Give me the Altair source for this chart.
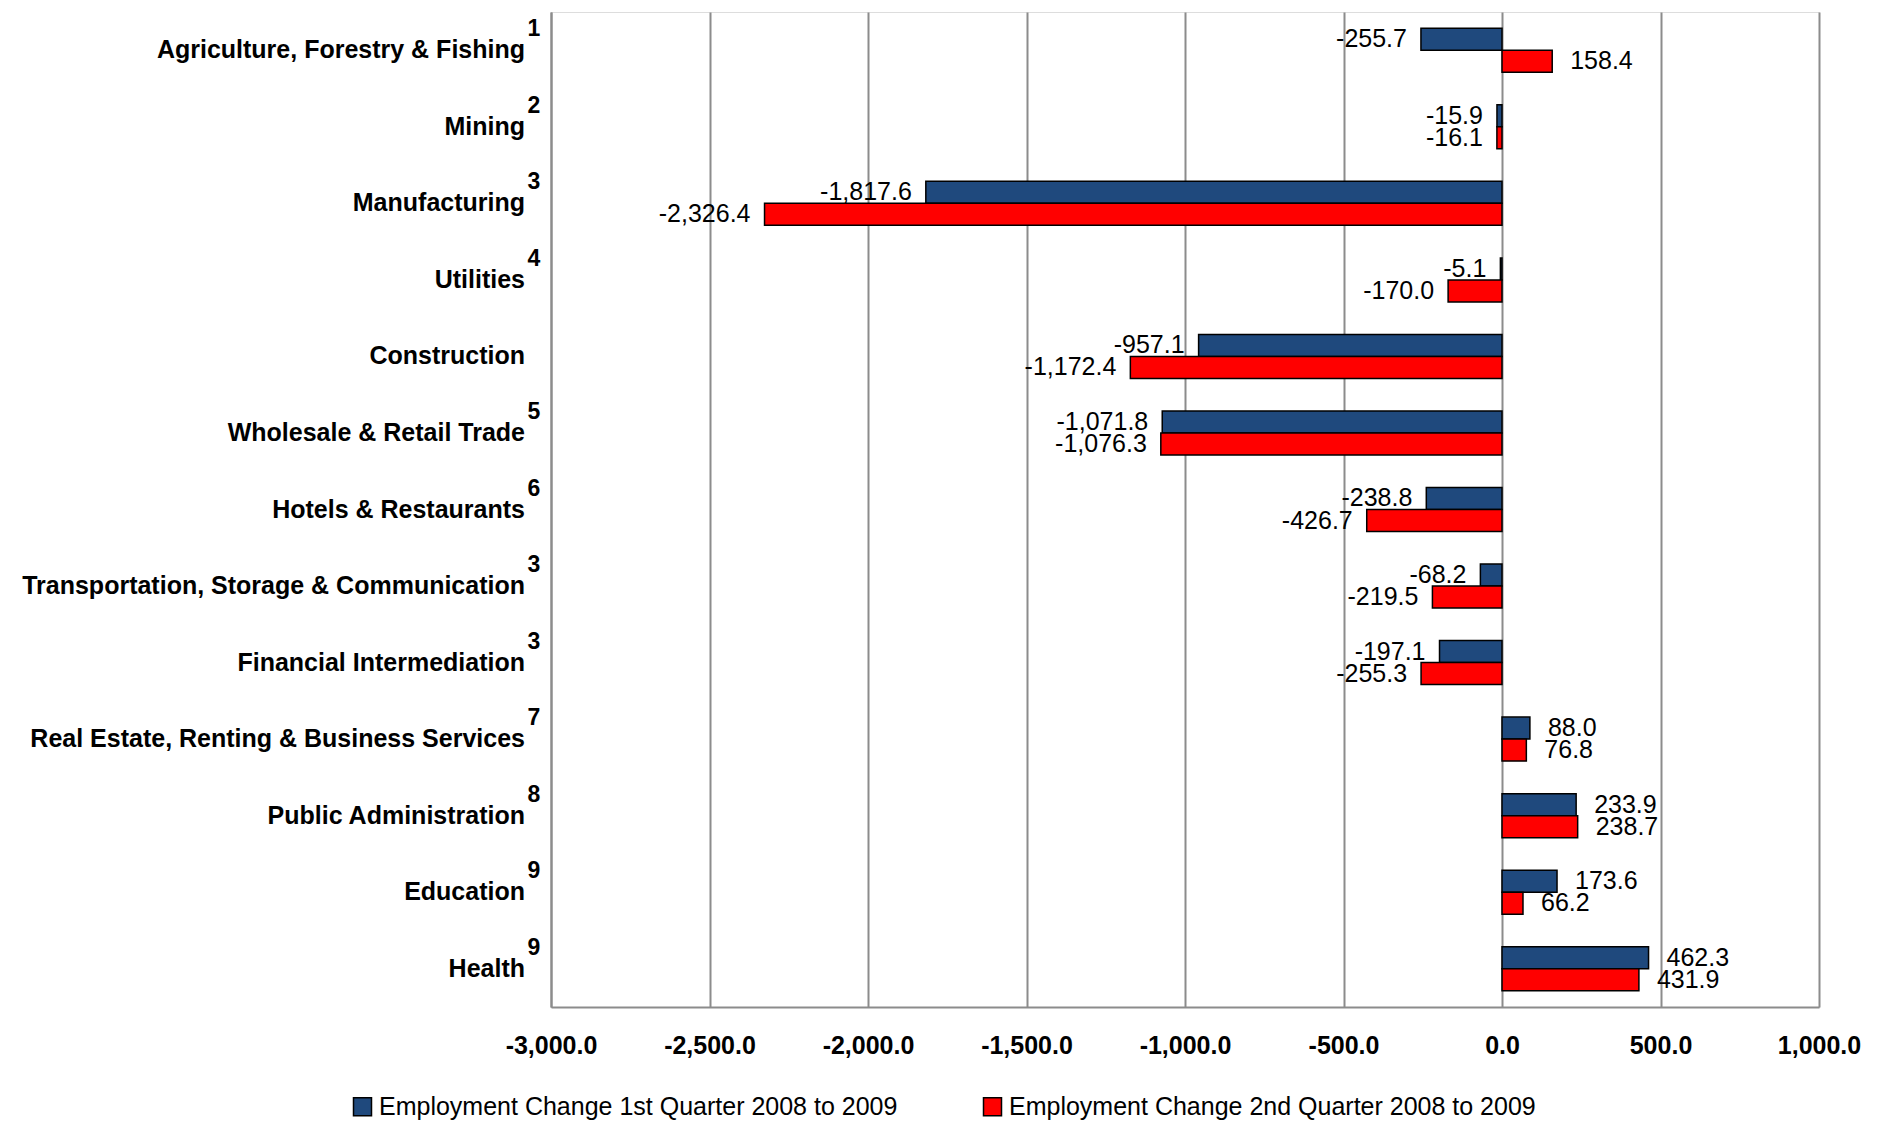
import altair as alt
import pandas as pd

categories = [
    "Agriculture, Forestry & Fishing",
    "Mining",
    "Manufacturing",
    "Utilities",
    "Construction",
    "Wholesale & Retail Trade",
    "Hotels & Restaurants",
    "Transportation, Storage & Communication",
    "Financial Intermediation",
    "Real Estate, Renting & Business Services",
    "Public Administration",
    "Education",
    "Health",
]
superscripts = ["1", "2", "3", "4", "", "5", "6", "3", "3", "7", "8", "9", "9"]
series = [
    "Employment Change 1st Quarter 2008 to 2009",
    "Employment Change 2nd Quarter 2008 to 2009",
]
q1_values = [-255.7, -15.9, -1817.6, -5.1, -957.1, -1071.8, -238.8, -68.2, -197.1, 88.0, 233.9, 173.6, 462.3]
q2_values = [158.4, -16.1, -2326.4, -170.0, -1172.4, -1076.3, -426.7, -219.5, -255.3, 76.8, 238.7, 66.2, 431.9]
x_ticks = [-3000, -2500, -2000, -1500, -1000, -500, 0, 500, 1000]
colors = ["#1F497D", "#FF0000"]

rows = []
for c, a, b in zip(categories, q1_values, q2_values):
    rows.append({"category": c, "series": series[0], "value": a})
    rows.append({"category": c, "series": series[1], "value": b})
df = pd.DataFrame(rows)
cat_df = pd.DataFrame({"category": categories, "sup": superscripts})

FONT = "Liberation Sans"
GRID = "#8c8c8c"
LABEL_EXPR = "replace(format(datum.value, ',.1f'), '\u2212', '-')"

y_enc = alt.Y(
    "category:N",
    sort=categories,
    scale=alt.Scale(paddingInner=0.425, paddingOuter=0.2125),
    axis=alt.Axis(labels=False, ticks=False, title=None, domainColor=GRID,
                  domainWidth=2, grid=False),
)
x_enc = alt.X(
    "value:Q",
    scale=alt.Scale(domain=[-3000, 1000], nice=False, zero=False),
    axis=alt.Axis(values=x_ticks, labelExpr=LABEL_EXPR, labelFont=FONT,
                  labelFontWeight="bold", labelFontSize=25, labelColor="black",
                  labelPadding=26, labelFlush=False, labelOverlap=False,
                  ticks=False, grid=True, gridColor=GRID,
                  gridWidth=2, domainColor=GRID, domainWidth=2, title=None),
)
yoff = alt.YOffset("series:N", sort=series)

bars = alt.Chart(df).mark_bar(stroke="black", strokeWidth=1.5).encode(
    x=x_enc,
    y=y_enc,
    yOffset=yoff,
    color=alt.Color(
        "series:N",
        sort=series,
        scale=alt.Scale(domain=series, range=colors),
        legend=alt.Legend(
            title=None, orient="none", legendX=-201, legendY=1082,
            direction="horizontal", symbolType="square", symbolSize=324,
            symbolStrokeColor="black", symbolStrokeWidth=1.5,
            symbolOpacity=1, labelFont=FONT, labelFontSize=25,
            labelColor="black", labelLimit=1000, labelOffset=4,
            columnPadding=82, padding=0,
        ),
    ),
)

text_base = alt.Chart(df).transform_calculate(
    label=LABEL_EXPR
)

neg_text = text_base.transform_filter("datum.value < 0").mark_text(
    align="right", baseline="middle", dx=-14, font=FONT, fontSize=25, color="black"
).encode(x="value:Q", y=alt.Y("category:N", sort=categories), yOffset=yoff,
         text="label:N")

pos_text = text_base.transform_filter("datum.value >= 0").mark_text(
    align="left", baseline="middle", dx=18, font=FONT, fontSize=25, color="black"
).encode(x="value:Q", y=alt.Y("category:N", sort=categories), yOffset=yoff,
         text="label:N")

cat_text = alt.Chart(cat_df).mark_text(
    align="right", baseline="middle", dx=-26, font=FONT, fontSize=25,
    fontWeight="bold", color="black"
).encode(x=alt.value(0), y=alt.Y("category:N", sort=categories), text="category:N")

sup_text = alt.Chart(cat_df).mark_text(
    align="center", baseline="middle", dx=-17, dy=-21, font=FONT, fontSize=23,
    fontWeight="bold", color="black"
).encode(x=alt.value(0), y=alt.Y("category:N", sort=categories), text="sup:N")

chart = alt.layer(bars, neg_text, pos_text, cat_text, sup_text).properties(
    width=1268,
    height=995,
    autosize=alt.AutoSizeParams(type="none"),
    padding={"left": 543, "top": 4, "right": 50, "bottom": 120},
).configure_view(stroke=None).configure(font=FONT, background="white")

chart.save("out.html", embed_options={"renderer": "svg", "actions": False})
